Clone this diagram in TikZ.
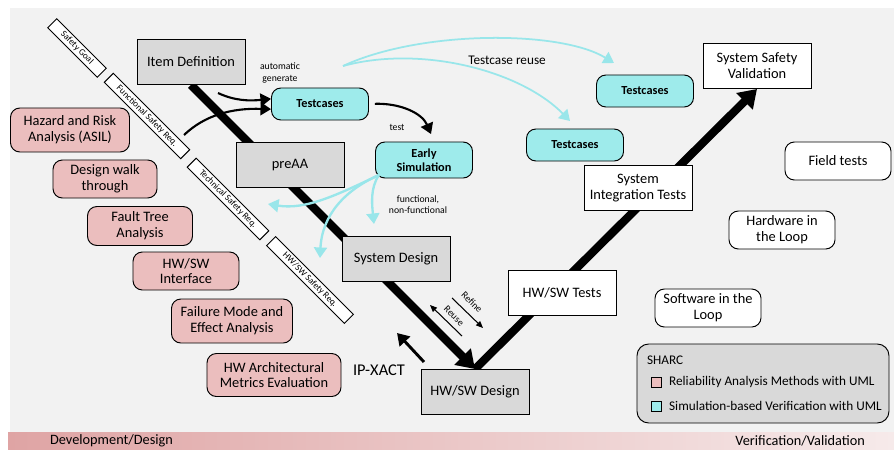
\documentclass[tikz,border=0pt]{standalone}
\usepackage{fontspec}
\setmainfont{Carlito}
\usepackage{xcolor}
\usepackage{tikz}
\usetikzlibrary{calc,arrows.meta}
\pgfdeclarelayer{bg}
\pgfsetlayers{bg,main}

\definecolor{bggray}{HTML}{F2F2F2}
\definecolor{boxgray}{HTML}{D9D9D9}
\definecolor{simcyan}{HTML}{9EEBEB}
\definecolor{relpink}{HTML}{EBBEBE}
\definecolor{arrowcyan}{HTML}{99E6EA}
\definecolor{barpink}{HTML}{DFA4A4}
\definecolor{barlight}{HTML}{F6EAEA}

\begin{document}
\begin{tikzpicture}[x=0.03cm,y=-0.03cm,
  every node/.style={font=\fontsize{12.3}{13.5}\selectfont},
  phase/.style={draw,line width=0.8pt,fill=boxgray,minimum width=3.24cm,minimum height=1.35cm,align=center},
  testbox/.style={phase,fill=white},
  simbox/.style={draw,line width=0.8pt,fill=simcyan,rounded corners=8pt,minimum width=2.91cm,minimum height=0.96cm,align=center,font=\fontsize{10.5}{12}\selectfont\bfseries},
  relbox/.style={draw,line width=0.8pt,fill=relpink,rounded corners=8pt,align=center},
  loopbox/.style={draw,line width=0.8pt,fill=white,rounded corners=8pt,minimum width=3.18cm,minimum height=1.14cm,align=center},
  reqbox/.style={draw,line width=0.8pt,fill=white,rotate=-45,minimum height=0.38cm,inner sep=0.5pt,font=\fontsize{7.8}{8}\selectfont},
  smalltxt/.style={font=\fontsize{8.3}{9.5}\selectfont,align=center},
  keytxt/.style={anchor=west,font=\fontsize{11.3}{12}\selectfont},
  vline/.style={line width=7pt,-{Triangle[length=15pt,width=19pt]}},
  genarrow/.style={line width=1.8pt,-{Triangle[length=9pt,width=11pt]}},
  simarrow/.style={draw=arrowcyan,line width=2pt,-{Triangle[length=9pt,width=11pt]}},
  thinarrow/.style={line width=0.9pt,-{Triangle[length=6pt,width=5pt]}}]
\useasboundingbox (0,0) rectangle (894,450);

\node[phase] (itemdef) at (191,62) {Item Definition};
\node[phase] (preaa) at (290,165) {preAA};
\node[phase] (sysdes) at (396,259) {System Design};
\node[phase] (hwswdes) at (475,392) {HW/SW Design};
\node[testbox] (hwswtest) at (562,293) {HW/SW Tests};
\node[testbox] (sysint) at (638,188) {System\\Integration Tests};
\node[testbox] (syssafe) at (757,66) {System Safety\\Validation};

\node[simbox] (tcA) at (320,104) {Testcases};
\node[simbox,minimum height=1.08cm] (earlysim) at (424,160) {Early\\Simulation};
\node[simbox] (tcB) at (645,91) {Testcases};
\node[simbox] (tcC) at (575,145) {Testcases};

\node[loopbox] (field) at (838,161) {Field tests};
\node[loopbox] (hil) at (782,230) {Hardware in\\the Loop};
\node[loopbox] (sil) at (708,308) {Software in the\\Loop};

\node[relbox,minimum width=3.57cm,minimum height=1.32cm] (hara) at (70,130) {Hazard and Risk\\Analysis (ASIL)};
\node[relbox,minimum width=3.12cm,minimum height=1.14cm] (walk) at (105,179) {Design walk\\through};
\node[relbox,minimum width=3.15cm,minimum height=1.17cm] (fta) at (140,226) {Fault Tree\\Analysis};
\node[relbox,minimum width=3.18cm,minimum height=1.14cm] (hwswif) at (186,271) {HW/SW\\Interface};
\node[relbox,minimum width=3.63cm,minimum height=1.32cm] (fmea) at (232,321) {Failure Mode and\\Effect Analysis};
\node[relbox,minimum width=4.02cm,minimum height=1.29cm] (hwame) at (274,375) {HW Architectural\\Metrics Evaluation};

\foreach \n/\x/\y/\l/\t in {sg/77/48/2.1/Safety Goal,fsr/147/116/3.24/Functional Safety Req.,tsr/228/199/3.08/Technical Safety Req.,hsr/310/280/3.3/{HW/SW Safety Req.}}
  \node[reqbox,minimum width=\l cm] (\n) at (\x,\y) {\t};

\node[smalltxt] (autolbl) at (280,73) {automatic\\generate};
\node[smalltxt] (testlbl) at (397,127) {test};
\node[smalltxt] (funclbl) at (418,205) {functional,\\non-functional};
\node[font=\fontsize{11.3}{13}\selectfont] (reuselbl) at (507,60) {Testcase reuse};
\node[font=\fontsize{14}{16}\selectfont] (ipxact) at (379,370) {IP-XACT};
\node[smalltxt,rotate=-45] (refinelbl) at (472,302) {Refine};
\node[smalltxt,rotate=-45] (reuselbl2) at (454,316) {Reuse};

\node[draw,line width=0.8pt,fill=boxgray,rounded corners=10pt,minimum width=7.56cm,minimum height=2.37cm] (sharc) at (763,383.5) {};
\node[keytxt] (sharclbl) at (643,360) {SHARC};
\node[draw,fill=relpink,minimum size=0.3cm,inner sep=0pt] (keyrel) at (656,382) {};
\node[keytxt] (keyreltxt) at (665,382) {Reliability Analysis Methods with UML};
\node[draw,fill=simcyan,minimum size=0.3cm,inner sep=0pt] (keysim) at (656,406) {};
\node[keytxt] (keysimtxt) at (665,406) {Simulation-based Verification with UML};

\coordinate (genA) at (218,93);
\coordinate (genB) at (184,135);
\coordinate (testend) at (431,134);
\coordinate (simout) at (379,175);
\coordinate (toPre) at (268,204);
\coordinate (toHsr) at (320,258);
\coordinate (toSys) at (374,224);
\coordinate (reusefrom) at (343,66);
\coordinate (reuseB) at (614,63);
\coordinate (reuseC) at (570,121);
\coordinate (refA) at (452,298);
\coordinate (refB) at (483,328);
\coordinate (reuA) at (462,336);
\coordinate (reuB) at (430,305);
\coordinate (ipA) at (424,362);
\coordinate (ipB) at (397,333);

\begin{pgfonlayer}{bg}
\fill[bggray] (10,8) rectangle (894,432);
\shade[left color=barpink,right color=barlight] (8,432) rectangle (894,450);
\draw[vline] (itemdef.south) -- (hwswdes.north);
\draw[vline] (hwswdes.north) -- (syssafe.south);
\end{pgfonlayer}

\node[anchor=west,font=\fontsize{12.2}{13}\selectfont] (devlbl) at (46,441) {Development/Design};
\node[anchor=east,font=\fontsize{12.2}{13}\selectfont] (verlbl) at (869,441) {Verification/Validation};

\draw[genarrow] (genA) .. controls (235,101) and (250,101) .. (tcA.174);
\draw[genarrow] (genB) .. controls (205,115) and (232,108) .. (tcA.186);
\draw[genarrow,shorten <=5pt] (tcA.east) .. controls (400,103) and (422,113) .. (testend);

\draw[simarrow] (simout) .. controls (335,196) and (305,210) .. (toPre);
\draw[simarrow] (simout) .. controls (345,190) and (322,215) .. (toHsr);
\draw[simarrow] (simout) .. controls (370,188) and (372,205) .. (toSys);
\draw[simarrow,line width=1.5pt] (reusefrom) .. controls (420,30) and (560,30) .. (reuseB);
\draw[simarrow,line width=1.5pt] (reusefrom) .. controls (420,45) and (520,70) .. (reuseC);

\draw[thinarrow] (refA) -- (refB);
\draw[thinarrow] (reuA) -- (reuB);
\draw[line width=2.5pt,-{Triangle[length=10pt,width=12pt]}] (ipA) -- (ipB);
\end{tikzpicture}
\end{document}
